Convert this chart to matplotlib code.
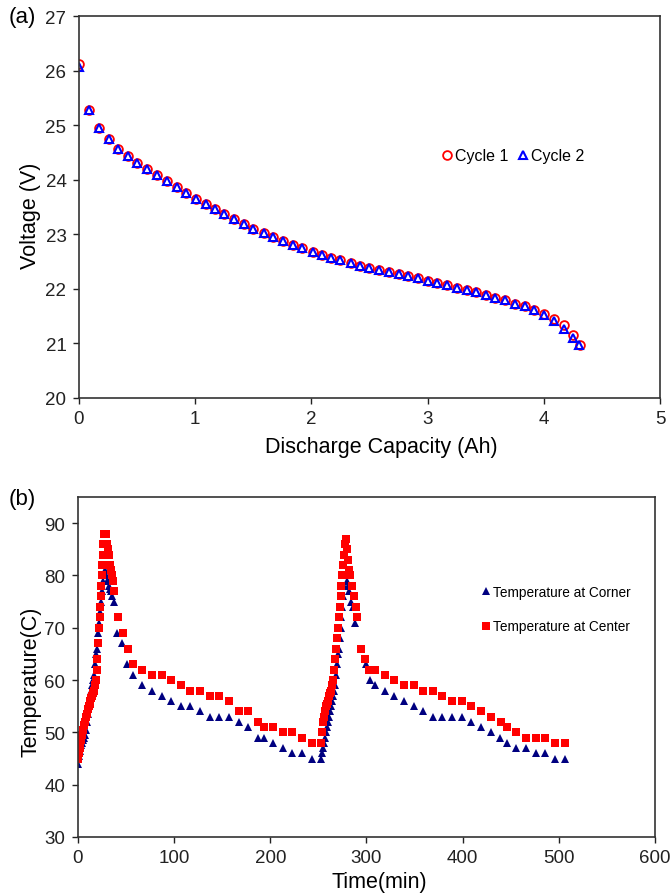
import matplotlib
matplotlib.use('Agg')
import matplotlib.pyplot as plt

plt.rcParams['font.family'] = ['Liberation Sans', 'DejaVu Sans']

# (a) discharge curves
cap1 = [0, 0.085, 0.17, 0.255, 0.34, 0.42, 0.50, 0.585, 0.67, 0.755, 0.84, 0.92, 1.01,
        1.09, 1.17, 1.25, 1.33, 1.42, 1.50, 1.59, 1.67, 1.76, 1.84, 1.92, 2.01, 2.09,
        2.17, 2.25, 2.34, 2.42, 2.50, 2.58, 2.67, 2.75, 2.83, 2.92, 3.00, 3.08, 3.17,
        3.25, 3.34, 3.42, 3.50, 3.58, 3.67, 3.75, 3.84, 3.92, 4.00, 4.09, 4.17, 4.25, 4.31]
volt1 = [26.12, 25.28, 24.95, 24.74, 24.57, 24.43, 24.31, 24.19, 24.08, 23.97, 23.86,
         23.76, 23.65, 23.55, 23.46, 23.37, 23.28, 23.19, 23.10, 23.03, 22.95, 22.88,
         22.81, 22.75, 22.68, 22.62, 22.57, 22.52, 22.47, 22.42, 22.38, 22.34, 22.30,
         22.27, 22.23, 22.19, 22.15, 22.11, 22.07, 22.02, 21.98, 21.94, 21.89, 21.84,
         21.79, 21.73, 21.68, 21.62, 21.53, 21.44, 21.33, 21.16, 20.98]
cap2 = [0, 0.085, 0.17, 0.255, 0.34, 0.42, 0.50, 0.585, 0.67, 0.755, 0.84, 0.92, 1.01,
        1.09, 1.17, 1.25, 1.33, 1.42, 1.50, 1.59, 1.67, 1.76, 1.84, 1.92, 2.01, 2.09,
        2.17, 2.25, 2.34, 2.42, 2.50, 2.58, 2.67, 2.75, 2.83, 2.92, 3.00, 3.08, 3.17,
        3.25, 3.34, 3.42, 3.50, 3.58, 3.67, 3.75, 3.84, 3.92, 4.00, 4.09, 4.17, 4.25, 4.30]
volt2 = [26.07, 25.28, 24.95, 24.74, 24.57, 24.43, 24.31, 24.19, 24.08, 23.97, 23.86,
         23.76, 23.65, 23.55, 23.46, 23.37, 23.28, 23.19, 23.10, 23.03, 22.95, 22.88,
         22.81, 22.75, 22.68, 22.62, 22.57, 22.52, 22.47, 22.42, 22.38, 22.34, 22.30,
         22.27, 22.23, 22.19, 22.15, 22.11, 22.07, 22.02, 21.98, 21.94, 21.89, 21.84,
         21.79, 21.73, 21.68, 21.62, 21.52, 21.42, 21.27, 21.10, 20.98]

# (b) temperatures
t_corner = [0, 1, 2, 3, 4, 5, 6, 7, 8, 9, 10, 11, 12, 13, 14, 15, 16, 17, 18, 19, 20, 21,
            22, 23, 24, 25, 26, 27, 28, 29, 30, 31, 32, 33, 34, 35, 37, 41, 46, 51, 57,
            67, 77, 87, 97, 107, 117, 127, 137, 147, 157, 167, 177, 187, 193, 203, 213,
            223, 233, 243, 253, 254, 255, 256, 257, 258, 259, 260, 261, 262, 263, 264,
            265, 266, 267, 268, 269, 270, 271, 272, 273, 274, 275, 276, 277, 278, 279,
            280, 281, 282, 284, 286, 288, 294, 299, 304, 309, 319, 329, 339, 349, 359,
            369, 379, 389, 399, 409, 419, 429, 439, 446, 455, 466, 476, 486, 496, 506]
temp_corner = [44, 45.5, 46.5, 47.5, 48, 48.5, 49, 49.5, 50.5, 52, 53.5, 55, 56, 57, 58,
               59, 60, 61, 63, 65, 66, 69, 71, 73, 75, 77, 79, 80, 81, 80, 79, 79, 78,
               77.5, 77, 76, 75, 69, 67, 63, 61, 59, 58, 57, 56, 55, 55, 54, 53, 53, 53,
               52, 51, 49, 49, 48, 47, 46, 46, 45, 45, 46, 47, 48, 49, 50, 51, 52, 53,
               54, 55, 56, 57, 58, 59, 61, 63, 65, 66, 68, 70, 72, 74, 76, 78, 80, 80,
               79, 78, 77, 75, 74, 71, 66, 63, 60, 59, 58, 57, 56, 55, 54, 53, 53, 53,
               53, 52, 51, 50, 49, 48, 47, 47, 46, 46, 45, 45]
t_center = [0, 1, 2, 3, 4, 5, 6, 7, 8, 9, 10, 11, 12, 13, 14, 15, 16, 17, 18, 19, 19.5,
            20, 21, 22, 22.5, 23, 23.5, 24, 24.5, 25, 26, 26.5, 27, 28, 29, 30, 31, 32,
            33, 34, 35, 36, 37, 42, 47, 52, 57, 67, 77, 87, 97, 107, 117, 127, 137, 147,
            157, 167, 177, 187, 193, 203, 213, 223, 233, 243, 253, 254, 255, 256, 257,
            258, 259, 260, 261, 262, 263, 264, 265, 266, 267, 268, 269, 270, 271, 272,
            273, 274, 275, 276, 277, 278, 279, 280, 281, 282, 283, 285, 287, 289, 290,
            294, 298, 303, 309, 319, 329, 339, 349, 359, 369, 379, 389, 399, 409, 419,
            429, 440, 446, 456, 466, 476, 486, 496, 506]
temp_center = [45, 46, 47, 48.5, 49.5, 50.5, 51.5, 52, 53, 53.5, 54.5, 55, 55.5, 56, 56.5,
               57, 57.5, 58, 59, 60, 62, 64, 67, 70, 72, 74, 76, 78, 80, 82, 84, 86, 88,
               88, 88, 86, 85, 84, 82, 81, 80, 79, 77, 72, 69, 66, 63, 62, 61, 61, 60, 59,
               58, 58, 57, 57, 56, 54, 54, 52, 51, 51, 50, 50, 49, 48, 48, 50, 52, 53, 54,
               55, 55.5, 56, 57, 57.5, 58, 59, 60, 62, 64, 66, 68, 70, 72, 74, 76, 78, 80,
               82, 84, 86, 87, 85, 83, 81, 80, 78, 76, 74, 72, 66, 64, 62, 62, 61, 60, 59,
               59, 58, 58, 57, 56, 56, 55, 54, 53, 52, 51, 50, 49, 49, 49, 48, 48]

fig = plt.figure(figsize=(6.71, 8.95), dpi=100)

# ---- panel (a)
ax1 = fig.add_axes([0.1177, 0.5542, 0.8659, 0.4268])
ax1.plot(cap1, volt1, 'o', mfc='none', mec='red', ms=6.3, mew=1.3, label='Cycle 1')
ax1.plot(cap2, volt2, '^', mfc='none', mec='blue', ms=5.8, mew=1.5, label='Cycle 2')
ax1.set_xlim(0, 5)
ax1.set_ylim(20, 27)
ax1.set_xticks(range(0, 6))
ax1.set_yticks(range(20, 28))
ax1.set_xlabel('Discharge Capacity (Ah)', fontsize=15.5)
ax1.set_ylabel('Voltage (V)', fontsize=15.5)
ax1.xaxis.set_label_coords(0.52, -0.1)
ax1.yaxis.set_label_coords(-0.066, 0.48)
ax1.legend(loc='center', bbox_to_anchor=(0.745, 0.634), ncol=2, frameon=False,
           fontsize=11.5, handletextpad=0.0, columnspacing=0.4, handlelength=1.0)

# ---- panel (b)
ax2 = fig.add_axes([0.1162, 0.0637, 0.8599, 0.3799])
ax2.plot(t_corner, temp_corner, '^', color='#000080', ms=5.5, mew=0,
         label='Temperature at Corner')
ax2.plot(t_center, temp_center, 's', color='red', ms=5.4, mew=0,
         label='Temperature at Center')
ax2.set_xlim(0, 600)
ax2.set_ylim(30, 95)
ax2.set_xticks(range(0, 700, 100))
ax2.set_yticks(range(30, 100, 10))
ax2.set_xlabel('Time(min)', fontsize=15.5)
ax2.set_ylabel('Temperature(C)', fontsize=15.5)
ax2.xaxis.set_label_coords(0.523, -0.1)
ax2.yaxis.set_label_coords(-0.064, 0.46)
ax2.legend(loc='center left', bbox_to_anchor=(0.675, 0.67), frameon=False,
           fontsize=9.8, handletextpad=0.1, handlelength=0.9, labelspacing=1.5)

fig.text(0.013, 1 - 18 / 895, '(a)', fontsize=16, va='center', ha='left')
fig.text(0.013, 1 - 500 / 895, '(b)', fontsize=16, va='center', ha='left')

for ax in (ax1, ax2):
    ax.tick_params(direction='out', length=4, width=1, pad=5, labelsize=13.5,
                   colors='#222222')
    for s in ax.spines.values():
        s.set_linewidth(1.2)
        s.set_color('#333333')

fig.savefig('out.png', dpi=100)
